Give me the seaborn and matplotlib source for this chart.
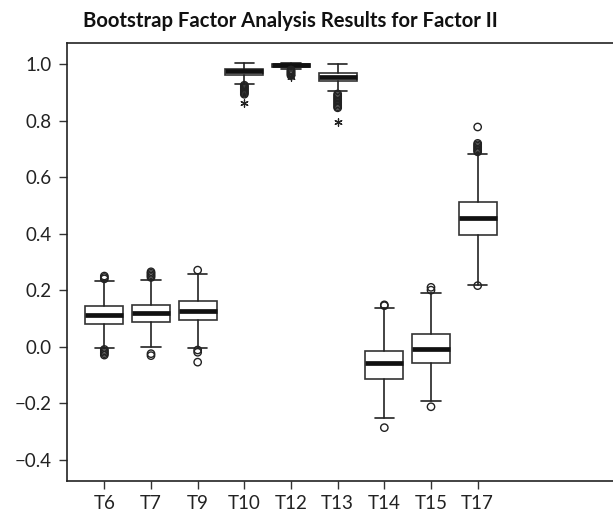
import numpy as np
import pandas as pd
import matplotlib
matplotlib.use("Agg")
import matplotlib.pyplot as plt
import seaborn as sns

# categories and box statistics
items = ["T6", "T7", "T9", "T10", "T12", "T13", "T14", "T15", "T17"]
q1 = [0.080, 0.088, 0.095, 0.963, 0.991, 0.940, -0.113, -0.059, 0.394]
med = [0.112, 0.120, 0.125, 0.975, 0.997, 0.955, -0.059, -0.009, 0.455]
q3 = [0.145, 0.149, 0.160, 0.985, 1.000, 0.970, -0.014, 0.044, 0.514]
whislo = [-0.004, 0.000, -0.004, 0.930, 0.984, 0.905, -0.254, -0.194, 0.220]
whishi = [0.233, 0.237, 0.257, 1.003, 1.003, 1.000, 0.136, 0.190, 0.684]

# outliers (circles) and extremes (asterisks)
outliers = {
    "T6": [0.240, 0.245, 0.250, -0.010, -0.015, -0.020, -0.025, -0.030],
    "T7": [0.245, 0.250, 0.255, 0.260, 0.265, -0.025, -0.032],
    "T9": [0.271, -0.012, -0.020, -0.055],
    "T10": [0.926, 0.922, 0.918, 0.914, 0.910, 0.906, 0.902, 0.898, 0.894],
    "T12": [0.980, 0.976, 0.972, 0.968, 0.964, 0.960],
    "T13": [0.895, 0.890, 0.885, 0.880, 0.875, 0.870, 0.865, 0.860, 0.855, 0.850, 0.846],
    "T14": [0.145, 0.148, -0.287],
    "T15": [0.200, 0.210, -0.213],
    "T17": [0.690, 0.695, 0.700, 0.705, 0.710, 0.715, 0.720, 0.778, 0.216],
}
extremes = {"T10": [0.863], "T12": [0.955], "T13": [0.797]}

sns.set_style("ticks")
plt.rcParams["font.family"] = ["Lato", "DejaVu Sans"]

fig = plt.figure(figsize=(6.13, 5.18), dpi=100)
ax = fig.add_axes([67 / 613, 37 / 518, 1 - 67 / 613, 438 / 518])

stats = []
for i, name in enumerate(items):
    stats.append(dict(label=name, med=med[i], q1=q1[i], q3=q3[i],
                      whislo=whislo[i], whishi=whishi[i], fliers=[]))

ax.bxp(stats, positions=range(len(items)), widths=0.82, showfliers=False,
       patch_artist=True,
       boxprops=dict(facecolor="white", edgecolor="#333333", linewidth=1.2),
       medianprops=dict(color="#111111", linewidth=3.4, solid_capstyle="butt"),
       whiskerprops=dict(color="#222222", linewidth=1.2),
       capprops=dict(color="#222222", linewidth=1.2),
       capwidths=0.42)

out_df = pd.DataFrame([(items.index(k), v) for k, vals in outliers.items() for v in vals],
                      columns=["pos", "value"])
ext_df = pd.DataFrame([(items.index(k), v) for k, vals in extremes.items() for v in vals],
                      columns=["pos", "value"])
sns.scatterplot(data=out_df, x="pos", y="value", ax=ax, marker="o", s=28,
                facecolor="none", edgecolor="#222222", linewidth=1.0, zorder=3)
sns.scatterplot(data=ext_df, x="pos", y="value", ax=ax, marker=(6, 2, 0), s=28,
                color="#222222", edgecolor="#222222", linewidth=0.9, zorder=3)

ax.set_xlim(-0.8, 10.9)
ax.set_ylim(-0.476, 1.0755)
ax.set_xticks(range(len(items)))
ax.set_xticklabels(items)
ax.set_yticks([-0.4, -0.2, 0.0, 0.2, 0.4, 0.6, 0.8, 1.0])
ax.set_yticklabels(["\u22120.4", "\u22120.2", "0.0", "0.2", "0.4", "0.6", "0.8", "1.0"])
ax.set_xlabel("")
ax.set_ylabel("")
ax.tick_params(axis="both", labelsize=13.5, length=6, width=1, color="#333333",
               labelcolor="#222222", pad=5)
ax.tick_params(axis="x", pad=4)
for side in ["left", "bottom", "top"]:
    ax.spines[side].set_linewidth(1.2)
    ax.spines[side].set_color("#222222")
ax.spines["right"].set_visible(False)

fig.text(290 / 613, 1 - 21 / 518, "Bootstrap Factor Analysis Results for Factor II",
         ha="center", va="center", fontsize=14.6, fontweight="bold", color="#111111")

fig.savefig("out.png", dpi=100)
